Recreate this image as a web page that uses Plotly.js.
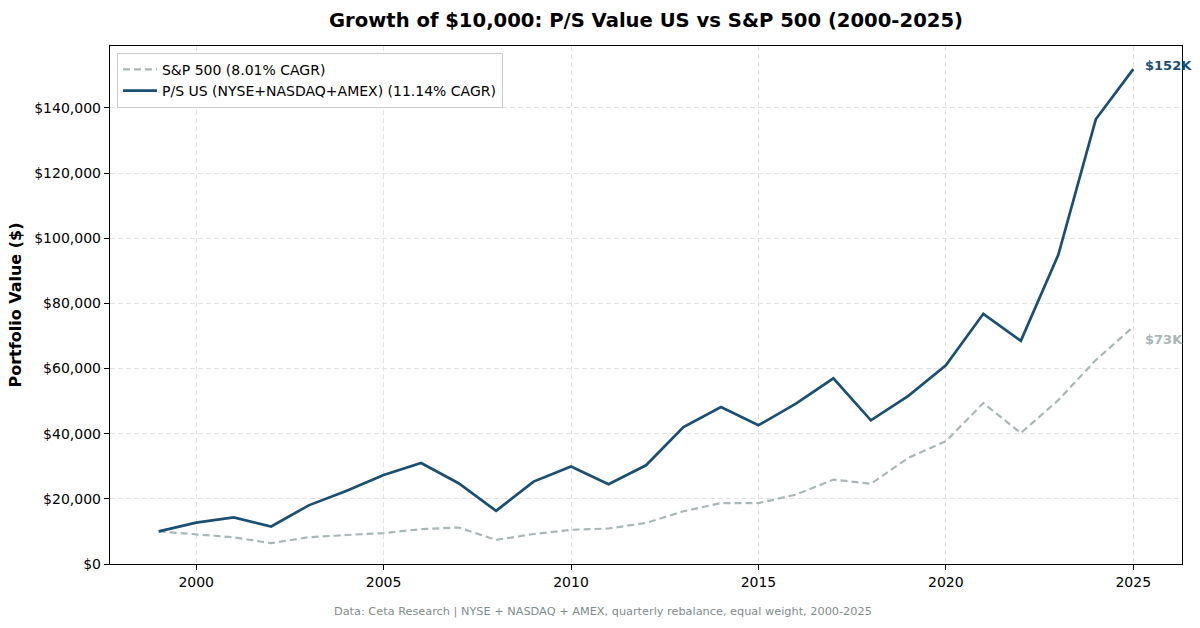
<!DOCTYPE html>
<html>
<head>
<meta charset="utf-8">
<script src="https://cdn.plot.ly/plotly-3.0.1.min.js"></script>
<style>
  html, body { margin: 0; padding: 0; background: #fff; }
  #chart { width: 1200px; height: 628px; }
</style>
</head>
<body>
<div id="chart"></div>
<script>
// Year-end portfolio values (growth of $10,000)
const years = [1999, 2000, 2001, 2002, 2003, 2004, 2005, 2006, 2007, 2008, 2009, 2010, 2011, 2012,
               2013, 2014, 2015, 2016, 2017, 2018, 2019, 2020, 2021, 2022, 2023, 2024, 2025];
const psUS = [10000, 12700, 14300, 11500, 18000, 22400, 27300, 31000, 24800, 16300, 25300, 29900, 24500, 30300,
              42000, 48200, 42600, 49200, 57000, 44100, 51600, 61000, 76800, 68500, 94900, 136500, 151900];
const sp500 = [10000, 9000, 8200, 6400, 8200, 8900, 9500, 10700, 11200, 7400, 9200, 10500, 10900, 12600,
               16200, 18700, 18700, 21300, 25900, 24600, 32600, 37700, 49400, 40200, 50300, 62600, 72800];

const seriesNames = ['S&P 500 (8.01% CAGR)', 'P/S US (NYSE+NASDAQ+AMEX) (11.14% CAGR)'];
const endLabels = ['$73K', '$152K'];

const BLUE = '#1B4F72';
const GREY = '#AAB7B8';
const FONT = 'DejaVu Sans, sans-serif';

const traces = [
    {
        x: years, y: sp500, type: 'scatter', mode: 'lines', name: seriesNames[0],
        line: { color: GREY, width: 2.2, dash: '7px,4px' },
    },
    {
        x: years, y: psUS, type: 'scatter', mode: 'lines', name: seriesNames[1],
        line: { color: BLUE, width: 2.7 },
    },
];

const last = years.length - 1;

const layout = {
    width: 1200, height: 628,
    margin: { l: 110, r: 18, t: 46, b: 64 },
    paper_bgcolor: '#fff', plot_bgcolor: '#fff',
    font: { family: FONT, size: 14, color: '#000' },
    title: {
        text: '<b>Growth of $10,000: P/S Value US vs S&P 500 (2000-2025)</b>',
        font: { size: 19.6, family: FONT, color: '#000' },
        xref: 'paper', x: 0.5, xanchor: 'center', y: 0.968, yanchor: 'middle',
    },
    xaxis: {
        range: [1997.7, 2026.3], tickmode: 'linear', tick0: 2000, dtick: 5,
        showgrid: true, gridcolor: '#e3e3e3', griddash: '5px,3px', gridwidth: 1,
        showline: true, linecolor: '#000', linewidth: 1.2, mirror: true,
        ticks: 'outside', ticklen: 5, tickcolor: '#000',
        tickfont: { size: 14 }, zeroline: false,
    },
    yaxis: {
        range: [0, 159000], tickmode: 'linear', tick0: 0, dtick: 20000, tickformat: '$,.0f',
        showgrid: true, gridcolor: '#e3e3e3', griddash: '5px,3px', gridwidth: 1,
        showline: true, linecolor: '#000', linewidth: 1.2, mirror: true,
        ticks: 'outside', ticklen: 5, tickcolor: '#000',
        tickfont: { size: 14 }, zeroline: false,
        title: { text: '<b>Portfolio Value ($)</b>', font: { size: 16 }, standoff: 8 },
    },
    legend: {
        x: 0.0065, y: 0.987, xanchor: 'left', yanchor: 'top',
        bgcolor: 'rgba(255,255,255,0.9)', bordercolor: '#cccccc', borderwidth: 1,
        font: { size: 14 }, traceorder: 'normal', itemwidth: 34,
        tracegroupgap: 0,
    },
    showlegend: true,
    annotations: [
        {
            x: years[last], y: psUS[last], xref: 'x', yref: 'y',
            text: '<b>' + endLabels[1] + '</b>', showarrow: false,
            xanchor: 'left', yanchor: 'middle', xshift: 10, yshift: 4,
            font: { size: 13, color: BLUE },
        },
        {
            x: years[last], y: sp500[last], xref: 'x', yref: 'y',
            text: '<b>' + endLabels[0] + '</b>', showarrow: false,
            xanchor: 'left', yanchor: 'middle', xshift: 10, yshift: -13,
            font: { size: 13, color: GREY },
        },
        {
            x: 0.46, y: 0, xref: 'paper', yref: 'paper', yshift: -47,
            xanchor: 'center', yanchor: 'middle', showarrow: false,
            text: 'Data: Ceta Research | NYSE + NASDAQ + AMEX, quarterly rebalance, equal weight, 2000-2025',
            font: { size: 11.3, color: '#7F8C8D' },
        },
    ],
};

Plotly.newPlot('chart', traces, layout, { displayModeBar: false, staticPlot: true });
</script>
</body>
</html>
